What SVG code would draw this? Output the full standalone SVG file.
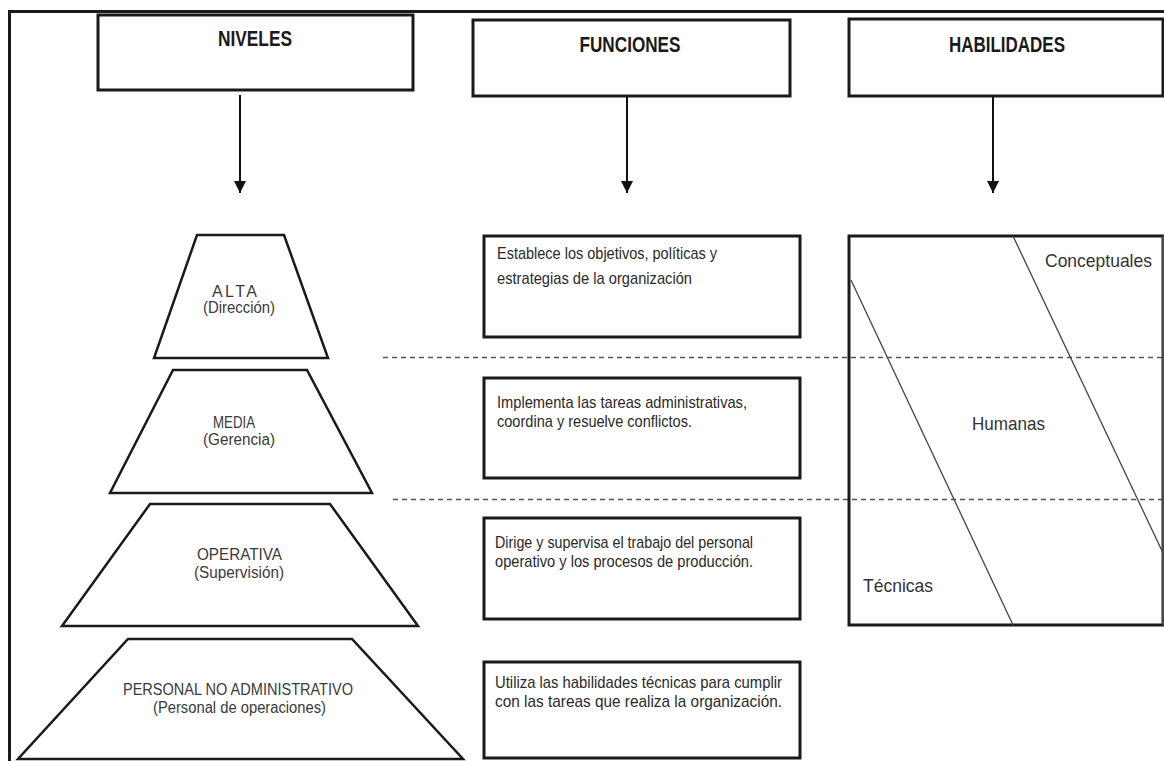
<svg xmlns="http://www.w3.org/2000/svg" width="1164" height="761" viewBox="0 0 1164 761">
  <defs>
    <!-- solid arrowhead, drawn along +x so orient="auto" follows the line -->
    <marker id="arrow" viewBox="0 0 12 12" refX="12" refY="6" markerWidth="12" markerHeight="12" markerUnits="userSpaceOnUse" orient="auto">
      <path d="M0,0 L12,6 L0,12 Z" fill="#111"/>
    </marker>
  </defs>
  <style>
    .frame { fill: none; stroke: #1a1a1a; stroke-width: 3; }
    .box { fill: #fff; stroke: #1a1a1a; stroke-width: 3; }
    .trap { fill: #fff; stroke: #1a1a1a; stroke-width: 2.5; stroke-linejoin: miter; }
    .head { font-family: "Liberation Sans", Arial, sans-serif; font-weight: bold; font-size: 22px; fill: #1a1a1a; text-anchor: middle; }
    .lvl { font-family: "Liberation Sans", Arial, sans-serif; font-size: 16px; fill: #3a3a3a; }
    .fn { font-family: "Liberation Sans", Arial, sans-serif; font-size: 17px; fill: #2a2a2a; }
    .sk { font-family: "Liberation Sans", Arial, sans-serif; font-size: 19px; fill: #333; }
    .conn { stroke: #111; stroke-width: 2; fill: none; }
    .dash { stroke: #555; stroke-width: 1.6; stroke-dasharray: 5 4; fill: none; }
    .diag { stroke: #444; stroke-width: 1.3; fill: none; }
  </style>

  <rect width="1164" height="761" fill="#fff"/>

  <!-- page frame: top and left rules -->
  <path class="frame" d="M9.5,770 L9.5,11.5 L1170,11.5"/>

  <!-- column headers -->
  <g id="niveles">
    <rect class="box" x="98" y="15" width="315" height="75"/>
    <text class="head" x="255" y="46" textLength="74" lengthAdjust="spacingAndGlyphs">NIVELES</text>
  </g>
  <g id="funciones">
    <rect class="box" x="473" y="20" width="317" height="76"/>
    <text class="head" x="630" y="52" textLength="101" lengthAdjust="spacingAndGlyphs">FUNCIONES</text>
  </g>
  <g id="habilidades">
    <rect class="box" x="849" y="19" width="314" height="77"/>
    <text class="head" x="1007" y="52" textLength="116" lengthAdjust="spacingAndGlyphs">HABILIDADES</text>
  </g>

  <!-- header arrows -->
  <g id="connectors">
    <line class="conn" x1="240" y1="95" x2="240" y2="193" marker-end="url(#arrow)"/>
    <line class="conn" x1="627" y1="96" x2="627" y2="193" marker-end="url(#arrow)"/>
    <line class="conn" x1="993" y1="96" x2="993" y2="193" marker-end="url(#arrow)"/>
  </g>

  <!-- level separators -->
  <g id="separators">
    <line class="dash" x1="383" y1="357.5" x2="1164" y2="357.5"/>
    <line class="dash" x1="393" y1="499.5" x2="1164" y2="499.5"/>
  </g>

  <!-- management levels (stacked trapezoids) -->
  <g id="nivel-alta">
    <polygon class="trap" points="197,235 284,235 328,358 154,358"/>
    <text class="lvl" x="212" y="297" textLength="45" lengthAdjust="spacing">ALTA</text>
    <text class="lvl" x="203" y="313" textLength="72" lengthAdjust="spacingAndGlyphs">(Dirección)</text>
  </g>
  <g id="nivel-media">
    <polygon class="trap" points="173,370 307,370 372,493 110,493"/>
    <text class="lvl" x="213" y="428" textLength="42" lengthAdjust="spacingAndGlyphs">MEDIA</text>
    <text class="lvl" x="203" y="445" textLength="72" lengthAdjust="spacingAndGlyphs">(Gerencia)</text>
  </g>
  <g id="nivel-operativa">
    <polygon class="trap" points="150,504 330,504 418,626 62,626"/>
    <text class="lvl" x="197" y="560" textLength="85" lengthAdjust="spacingAndGlyphs">OPERATIVA</text>
    <text class="lvl" x="194" y="578" textLength="90" lengthAdjust="spacingAndGlyphs">(Supervisión)</text>
  </g>
  <g id="nivel-personal">
    <polygon class="trap" points="128,639 352,639 463,759 18,759"/>
    <text class="lvl" x="123" y="695" textLength="230" lengthAdjust="spacingAndGlyphs">PERSONAL NO ADMINISTRATIVO</text>
    <text class="lvl" x="153" y="713" textLength="173" lengthAdjust="spacingAndGlyphs">(Personal de operaciones)</text>
  </g>

  <!-- functions per level -->
  <g id="funcion-alta">
    <rect class="box" x="484" y="236" width="316" height="101"/>
    <text class="fn" x="497" y="259" textLength="220" lengthAdjust="spacingAndGlyphs">Establece los objetivos, políticas y</text>
    <text class="fn" x="497" y="284" textLength="195" lengthAdjust="spacingAndGlyphs">estrategias de la organización</text>
  </g>
  <g id="funcion-media">
    <rect class="box" x="484" y="378" width="316" height="100"/>
    <text class="fn" x="497" y="408" textLength="250" lengthAdjust="spacingAndGlyphs">Implementa las tareas administrativas,</text>
    <text class="fn" x="497" y="427" textLength="195" lengthAdjust="spacingAndGlyphs">coordina y resuelve conflictos.</text>
  </g>
  <g id="funcion-operativa">
    <rect class="box" x="484" y="518" width="316" height="101"/>
    <text class="fn" x="495" y="548" textLength="258" lengthAdjust="spacingAndGlyphs">Dirige y supervisa el trabajo del personal</text>
    <text class="fn" x="495" y="567" textLength="258" lengthAdjust="spacingAndGlyphs">operativo y los procesos de producción.</text>
  </g>
  <g id="funcion-personal">
    <rect class="box" x="484" y="662" width="316" height="96"/>
    <text class="fn" x="495" y="688" textLength="287" lengthAdjust="spacingAndGlyphs">Utiliza las habilidades técnicas para cumplir</text>
    <text class="fn" x="495" y="707" textLength="287" lengthAdjust="spacingAndGlyphs">con las tareas que realiza la organización.</text>
  </g>

  <!-- skills mix panel -->
  <g id="habilidades-panel">
    <rect x="849" y="236" width="314" height="389" fill="none" stroke="#1a1a1a" stroke-width="3"/>
    <line x1="1163" y1="236" x2="1163" y2="625" stroke="#666" stroke-width="1.3"/>
    <line class="diag" x1="1013" y1="236" x2="1163" y2="553"/>
    <line class="diag" x1="851" y1="280" x2="1013" y2="625"/>
    <text class="sk" x="1045" y="267" textLength="107" lengthAdjust="spacingAndGlyphs">Conceptuales</text>
    <text class="sk" x="972" y="430" textLength="73" lengthAdjust="spacingAndGlyphs">Humanas</text>
    <text class="sk" x="863" y="592" textLength="70" lengthAdjust="spacingAndGlyphs">Técnicas</text>
  </g>
</svg>
